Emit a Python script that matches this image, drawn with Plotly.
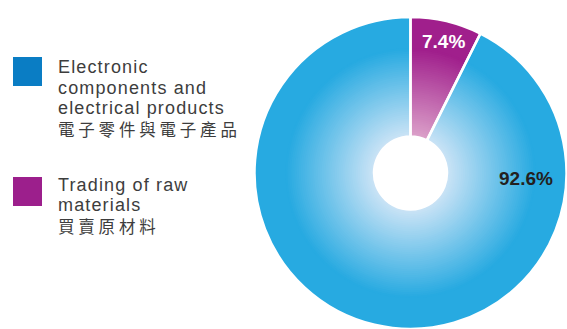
import plotly.graph_objects as go

# ---- data ----
categories_en = [["Trading of raw", "materials"],
                 ["Electronic", "components and", "electrical products"]]
categories_zh = ["買賣原材料", "電子零件與電子產品"]
values = [7.4, 92.6]

# ---- styling ----
W, H = 567, 329
CX, CY = 410.5, 173.0          # pie centre (px from top-left)
R_OUT = 156.0
R_HOLE = 36.5
R_GRAD = 125.0                 # radius where gradient becomes solid
blue_solid = (39, 170, 225)
blue_light = (205, 228, 246)
purple_solid = (160, 31, 140)
purple_light = (220, 162, 202)


def mix(c1, c2, t):
    return "rgb(%d,%d,%d)" % tuple(round(a + (b - a) * t) for a, b in zip(c1, c2))


def domain(r):
    return dict(x=[max(0, (CX - r) / W), min(1, (CX + r) / W)],
                y=[max(0, (H - CY - r) / H), min(1, (H - CY + r) / H)])


def px(x, y):
    return x / W, 1 - y / H


fig = go.Figure()

# stacked discs from outside in -> radial gradient
radii = [R_OUT]
n = 46
for i in range(n + 1):
    radii.append(R_GRAD - (R_GRAD - R_HOLE - 1) * i / n)
for r in radii:
    t = min(1.0, max(0.0, (r - R_HOLE) / (R_GRAD - R_HOLE)))
    cols = [mix(purple_light, purple_solid, t), mix(blue_light, blue_solid, t)]
    fig.add_trace(go.Pie(values=values, sort=False, direction="clockwise", rotation=0,
                         hole=R_HOLE / r, domain=domain(r),
                         marker=dict(colors=cols, line=dict(width=0)),
                         textinfo="none", hoverinfo="skip", showlegend=False))

# white separators overlay
fig.add_trace(go.Pie(values=values, sort=False, direction="clockwise", rotation=0,
                     hole=R_HOLE / R_OUT, domain=domain(R_OUT),
                     marker=dict(colors=["rgba(0,0,0,0)"] * 2, line=dict(color="white", width=2.5)),
                     textinfo="none", hoverinfo="skip", showlegend=False))

annotations = []
# value labels
label_pos = [(443.5, 42.0, "white"), (525.5, 178.0, "#231f20")]
for v, (x, y, c) in zip(values, label_pos):
    ax, ay = px(x, y)
    annotations.append(dict(x=ax, y=ay, xref="paper", yref="paper",
                            text="<b>%.1f%%</b>" % v, showarrow=False,
                            xanchor="center", yanchor="middle",
                            font=dict(family="Liberation Sans, Arial", size=19, color=c)))

# legend
legend_colors = ["#9c1f8c", "#0a7dc4"]
legend_tops = [177, 57]
line_centres = [[184.5, 205], [66.5, 87.5, 108]]
zh_centres = [226, 129]
shapes = []
for col, top, en, zh, lc, zc in zip(legend_colors, legend_tops, categories_en,
                                    categories_zh, line_centres, zh_centres):
    x0, y0 = px(13, top)
    x1, y1 = px(42, top + 29)
    shapes.append(dict(type="rect", xref="paper", yref="paper",
                       x0=x0, x1=x1, y0=y0, y1=y1,
                       fillcolor=col, line=dict(width=0)))
    for txt, yc in zip(en, lc):
        ax, ay = px(55.5, yc)
        annotations.append(dict(x=ax, y=ay, xref="paper", yref="paper",
                                text='<span style="letter-spacing:1.15px">%s</span>' % txt,
                                showarrow=False, xanchor="left", yanchor="middle",
                                font=dict(family="Liberation Sans, Arial", size=18, color="#3d3d3d")))
    ax, ay = px(55.5, zc)
    annotations.append(dict(x=ax, y=ay, xref="paper", yref="paper",
                            text='<span style="letter-spacing:3.8px">%s</span>' % zh,
                            showarrow=False, xanchor="left", yanchor="middle",
                            font=dict(family="Noto Sans CJK TC", size=16.5, color="#3d3d3d")))

fig.update_layout(width=W, height=H, margin=dict(l=0, r=0, t=0, b=0),
                  paper_bgcolor="white", plot_bgcolor="white",
                  annotations=annotations, shapes=shapes, showlegend=False)
fig.write_html("out.html", config={"displayModeBar": False},
               post_script="document.body.style.margin='0';document.body.style.overflow='hidden';")
